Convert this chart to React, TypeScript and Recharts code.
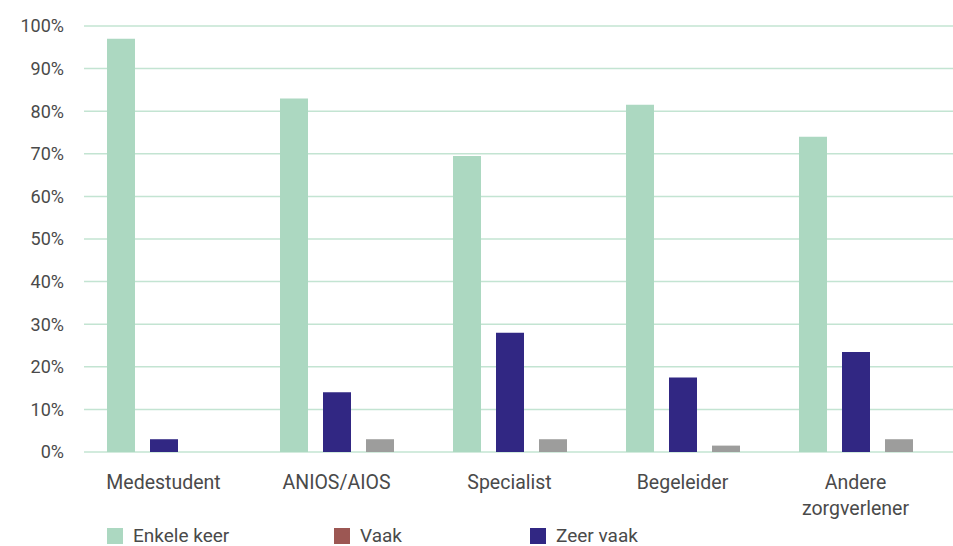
import React from "react";
import { Bar, BarChart, CartesianGrid, Text, XAxis, YAxis } from "recharts";

// Categories along the x axis and the share per answer (in %).
const categories = ["Medestudent", "ANIOS/AIOS", "Specialist", "Begeleider", "Andere zorgverlener"];
const enkeleKeer = [97, 83, 69.5, 81.5, 74];
const zeerVaak = [3, 14, 28, 17.5, 23.5];
const overig = [0, 3, 3, 1.5, 3];
const yTicks = [0, 10, 20, 30, 40, 50, 60, 70, 80, 90, 100];

const legendItems = [
  { label: "Enkele keer", color: "#acd8c1", left: 107 },
  { label: "Vaak", color: "#9c5753", left: 334 },
  { label: "Zeer vaak", color: "#312783", left: 530 },
];

const data = categories.map((name, i) => ({
  name,
  enkeleKeer: enkeleKeer[i],
  zeerVaak: zeerVaak[i],
  overig: overig[i],
}));

const FONT = "Roboto, 'Liberation Sans', sans-serif";
const TEXT = "#4a4a4a";

function CategoryTick(props: any) {
  const { x, y, payload } = props;
  return (
    <Text
      x={x}
      y={y}
      width={118}
      textAnchor="middle"
      verticalAnchor="start"
      lineHeight={26}
      fill={TEXT}
      fontSize={19.5}
      fontFamily={FONT}
    >
      {payload.value}
    </Text>
  );
}

export default function App() {
  return (
    <div style={{ position: "fixed", left: 0, top: 0, width: 953, height: 546, background: "#fff", overflow: "hidden" }}>
      <BarChart
        width={953}
        height={546}
        data={data}
        margin={{ top: 26, right: 0, bottom: 34, left: 0 }}
        barSize={28}
        barGap={15}
      >
        <CartesianGrid vertical={false} stroke="#c3e4d2" strokeWidth={1.5} />
        <XAxis
          dataKey="name"
          axisLine={false}
          tickLine={false}
          height={60}
          padding={{ left: -7, right: 11 }}
          tick={<CategoryTick />}
          tickMargin={17}
          interval={0}
        />
        <YAxis
          width={84}
          domain={[0, 100]}
          ticks={yTicks}
          tickFormatter={(v: number) => `${v}%`}
          axisLine={false}
          tickLine={false}
          tickMargin={14}
          tick={{ fill: TEXT, fontSize: 18, fontFamily: FONT }}
        />
        <Bar dataKey="enkeleKeer" name="Enkele keer" fill="#acd8c1" isAnimationActive={false} />
        <Bar dataKey="zeerVaak" name="Zeer vaak" fill="#312783" isAnimationActive={false} />
        <Bar dataKey="overig" fill="#9d9d9c" isAnimationActive={false} />
      </BarChart>
      {legendItems.map((item) => (
        <div
          key={item.label}
          style={{
            position: "absolute",
            left: item.left,
            top: 524,
            display: "flex",
            alignItems: "center",
            fontFamily: FONT,
            fontSize: 19,
            color: TEXT,
            whiteSpace: "nowrap",
          }}
        >
          <span style={{ display: "inline-block", width: 16, height: 16, background: item.color, marginRight: 10 }} />
          {item.label}
        </div>
      ))}
    </div>
  );
}
